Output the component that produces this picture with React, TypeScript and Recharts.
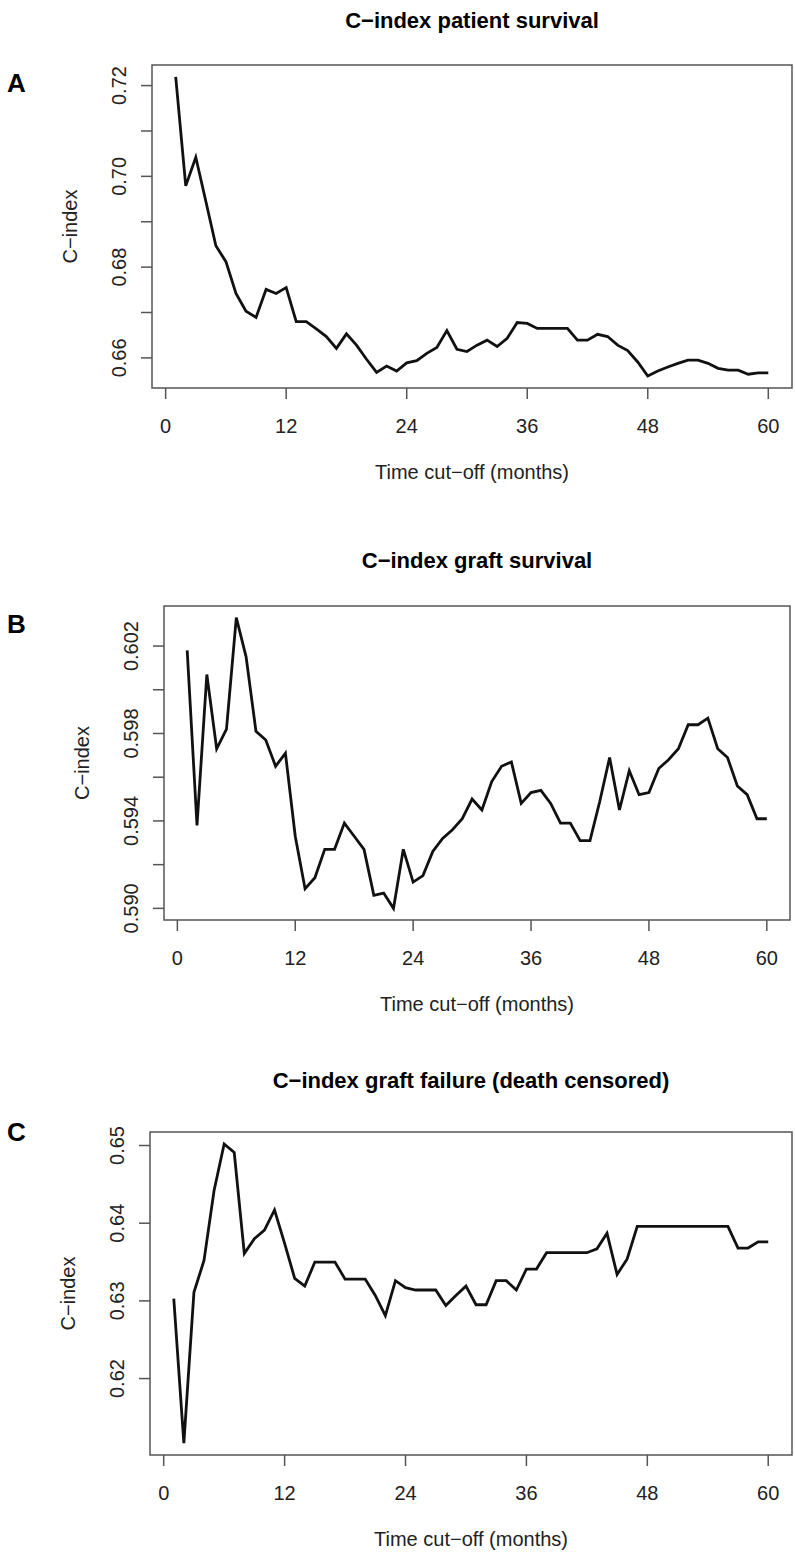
import React from 'react';
import { LineChart, Line, XAxis, YAxis, ReferenceArea } from 'recharts';

// months 1..60 (time cut-off)
const months = [
  1, 2, 3, 4, 5, 6, 7, 8, 9, 10, 11, 12, 13, 14, 15, 16, 17, 18, 19, 20,
  21, 22, 23, 24, 25, 26, 27, 28, 29, 30, 31, 32, 33, 34, 35, 36, 37, 38, 39, 40,
  41, 42, 43, 44, 45, 46, 47, 48, 49, 50, 51, 52, 53, 54, 55, 56, 57, 58, 59, 60,
];

const patientSurvival = [
  0.7219, 0.6979, 0.7042, 0.6945, 0.6847, 0.6812, 0.6742, 0.6703, 0.6689, 0.6751,
  0.6742, 0.6755, 0.668, 0.668, 0.6664, 0.6647, 0.6621, 0.6653, 0.6628, 0.6597,
  0.6568, 0.6582, 0.6571, 0.6589, 0.6594, 0.661, 0.6623, 0.666, 0.6619, 0.6614,
  0.6628, 0.6639, 0.6625, 0.6643, 0.6678, 0.6676, 0.6665, 0.6665, 0.6665, 0.6665,
  0.6639, 0.6639, 0.6652, 0.6647, 0.6628, 0.6616, 0.6591, 0.656, 0.6571, 0.658,
  0.6588, 0.6595, 0.6595, 0.6588, 0.6577, 0.6573, 0.6573, 0.6564, 0.6567, 0.6567,
];

const graftSurvival = [
  0.6018, 0.5938, 0.6007, 0.5973, 0.5982, 0.6033, 0.6015, 0.5981, 0.5977, 0.5965,
  0.5971, 0.5933, 0.5909, 0.5914, 0.5927, 0.5927, 0.5939, 0.5933, 0.5927, 0.5906,
  0.5907, 0.59, 0.5927, 0.5912, 0.5915, 0.5926, 0.5932, 0.5936, 0.5941, 0.595,
  0.5945, 0.5958, 0.5965, 0.5967, 0.5948, 0.5953, 0.5954, 0.5948, 0.5939, 0.5939,
  0.5931, 0.5931, 0.5949, 0.5969, 0.5945, 0.5963, 0.5952, 0.5953, 0.5964, 0.5968,
  0.5973, 0.5984, 0.5984, 0.5987, 0.5973, 0.5969, 0.5956, 0.5952, 0.5941, 0.5941,
];

const graftFailure = [
  0.6303, 0.6117, 0.6311, 0.6352, 0.6442, 0.6502, 0.6491, 0.6361, 0.638, 0.6391,
  0.6417, 0.6374, 0.6329, 0.6319, 0.635, 0.635, 0.635, 0.6328, 0.6328, 0.6328,
  0.6307, 0.6281, 0.6326, 0.6317, 0.6314, 0.6314, 0.6314, 0.6294, 0.6307, 0.6319,
  0.6295, 0.6295, 0.6326, 0.6326, 0.6314, 0.6341, 0.6341, 0.6362, 0.6362, 0.6362,
  0.6362, 0.6362, 0.6367, 0.6387, 0.6334, 0.6354, 0.6396, 0.6396, 0.6396, 0.6396,
  0.6396, 0.6396, 0.6396, 0.6396, 0.6396, 0.6396, 0.6368, 0.6368, 0.6376, 0.6376,
];

const xTicks = [0, 12, 24, 36, 48, 60];

const yTicksA = [0.66, 0.67, 0.68, 0.69, 0.7, 0.71, 0.72];
const yLabelsA = [0.66, 0.68, 0.7, 0.72];
const yTicksB = [0.59, 0.592, 0.594, 0.596, 0.598, 0.6, 0.602];
const yLabelsB = [0.59, 0.594, 0.598, 0.602];
const yTicksC = [0.62, 0.63, 0.64, 0.65];
const yLabelsC = [0.62, 0.63, 0.64, 0.65];

const FONT = '"Liberation Sans", Arial, Helvetica, sans-serif';
const BOX = '#555';
const AXIS_FS = 20;

// R style axis range: 4% padding on each side
function rRange(vals: number[]): [number, number] {
  const lo = Math.min(...vals);
  const hi = Math.max(...vals);
  const pad = (hi - lo) * 0.04;
  return [lo - pad, hi + pad];
}

const xDomain = rRange(months);

function XTick(props: any) {
  const { x, y, payload } = props;
  return (
    <text x={x} y={y} textAnchor="middle" fontSize={AXIS_FS} fontFamily={FONT} fill="#222">
      {payload.value}
    </text>
  );
}

function makeYTick(labels: number[], digits: number) {
  const shown = labels.map((v) => v.toFixed(digits));
  return (props: any) => {
    const { x, y, payload } = props;
    const s = Number(payload.value).toFixed(digits);
    if (!shown.includes(s)) return <g />;
    return (
      <text
        x={x}
        y={y}
        transform={`rotate(-90 ${x} ${y})`}
        textAnchor="middle"
        fontSize={AXIS_FS}
        fontFamily={FONT}
        fill="#222"
      >
        {s}
      </text>
    );
  };
}

interface PanelProps {
  top: number;
  height: number;
  boxTop: number;
  boxBottom: number;
  boxLeft: number;
  boxRight: number;
  values: number[];
  yTicks: number[];
  yLabels: number[];
  digits: number;
}

function Panel(p: PanelProps) {
  const data = months.map((m, i) => ({ month: m, value: p.values[i] }));
  const yDomain = rRange(p.values);
  return (
    <div style={{ position: 'absolute', left: 0, top: p.top }}>
      <LineChart
        width={795}
        height={p.height}
        data={data}
        margin={{ top: p.boxTop - p.top, right: 795 - p.boxRight, bottom: 0, left: 0 }}
      >
        <XAxis
          dataKey="month"
          type="number"
          domain={xDomain}
          ticks={xTicks}
          axisLine={false}
          tickSize={11}
          tickMargin={34}
          tickLine={{ stroke: BOX, strokeWidth: 1.5 }}
          tick={XTick}
          height={p.top + p.height - p.boxBottom}
          interval={0}
        />
        <YAxis
          type="number"
          domain={yDomain}
          ticks={p.yTicks}
          axisLine={false}
          tickSize={11}
          tickMargin={15}
          tickLine={{ stroke: BOX, strokeWidth: 1.5 }}
          tick={makeYTick(p.yLabels, p.digits)}
          width={p.boxLeft}
          interval={0}
        />
        <ReferenceArea
          x1={xDomain[0]}
          x2={xDomain[1]}
          y1={yDomain[0]}
          y2={yDomain[1]}
          fill="none"
          fillOpacity={0}
          stroke={BOX}
          strokeWidth={1.5}
          ifOverflow="visible"
        />
        <Line
          type="linear"
          dataKey="value"
          stroke="#111"
          strokeWidth={2.8}
          dot={false}
          isAnimationActive={false}
        />
      </LineChart>
    </div>
  );
}

const panels = [
  { letter: 'A', title: 'C\u2212index patient survival', top: 0, height: 520, boxTop: 65, boxBottom: 388, boxLeft: 152, boxRight: 792, values: patientSurvival, yTicks: yTicksA, yLabels: yLabelsA, digits: 2, letterY: 92, titleY: 28 },
  { letter: 'B', title: 'C\u2212index graft survival', top: 530, height: 500, boxTop: 606, boxBottom: 920, boxLeft: 164, boxRight: 790, values: graftSurvival, yTicks: yTicksB, yLabels: yLabelsB, digits: 3, letterY: 633, titleY: 568 },
  { letter: 'C', title: 'C\u2212index graft failure (death censored)', top: 1050, height: 507, boxTop: 1132, boxBottom: 1455, boxLeft: 150, boxRight: 792, values: graftFailure, yTicks: yTicksC, yLabels: yLabelsC, digits: 2, letterY: 1141, titleY: 1088 },
];

export default function App() {
  return (
    <div style={{ position: 'absolute', left: 0, top: 0, width: 795, height: 1557, background: '#fff' }}>
      {panels.map((p) => (
        <Panel key={p.letter} {...p} />
      ))}
      <svg
        width={795}
        height={1557}
        style={{ position: 'absolute', left: 0, top: 0, pointerEvents: 'none' }}
        fontFamily={FONT}
      >
        {panels.map((p) => {
          const cx = (p.boxLeft + p.boxRight) / 2;
          const cy = (p.boxTop + p.boxBottom) / 2;
          const yl = p.boxLeft - 75;
          return (
            <g key={p.letter}>
              <text x={7} y={p.letterY} fontSize={26} fontWeight="bold" fill="#000">
                {p.letter}
              </text>
              <text x={cx} y={p.titleY} textAnchor="middle" fontSize={22} fontWeight="bold" fill="#000">
                {p.title}
              </text>
              <text x={cx} y={p.boxBottom + 91} textAnchor="middle" fontSize={AXIS_FS} fill="#222">
                Time cut{'\u2212'}off (months)
              </text>
              <text
                x={yl}
                y={cy}
                transform={`rotate(-90 ${yl} ${cy})`}
                textAnchor="middle"
                fontSize={AXIS_FS}
                fill="#222"
              >
                C{'\u2212'}index
              </text>
            </g>
          );
        })}
      </svg>
    </div>
  );
}
